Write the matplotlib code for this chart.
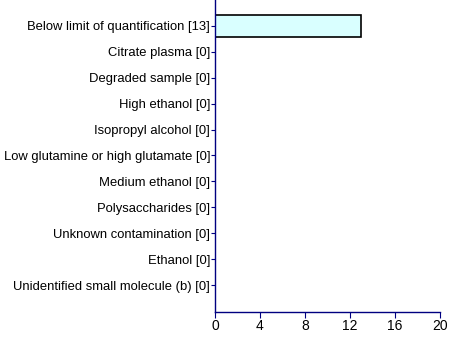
import matplotlib.pyplot as plt
import matplotlib.transforms as mtransforms

# Sample flags and counts
categories = [
    'Below limit of quantification',
    'Citrate plasma',
    'Degraded sample',
    'High ethanol',
    'Isopropyl alcohol',
    'Low glutamine or high glutamate',
    'Medium ethanol',
    'Polysaccharides',
    'Unknown contamination',
    'Ethanol',
    'Unidentified small molecule (b)',
]
counts = [13, 0, 0, 0, 0, 0, 0, 0, 0, 0, 0]
x_ticks = [0, 4, 8, 12, 16, 20]

labels = [f'{c} [{n}]' for c, n in zip(categories, counts)]

plt.rcParams['font.family'] = ['Liberation Sans', 'DejaVu Sans']

fig = plt.figure(figsize=(4.5, 3.42), dpi=100)
ax = fig.add_axes([215 / 450, 1 - 312 / 342, 225 / 450, 312 / 342])

pos = list(range(len(categories)))
ax.barh(pos, counts, height=0.85, color='#d9ffff', edgecolor='black', linewidth=1.2)

ax.set_yticks(pos)
ax.set_yticklabels(labels, fontsize=9.4)
ax.set_ylim(len(categories) - 1 + 1.04, -1.0)

# nudge category labels up a little relative to their ticks
shift = mtransforms.ScaledTranslation(0, 3 / 100, fig.dpi_scale_trans)
for lab in ax.get_yticklabels():
    lab.set_transform(lab.get_transform() + shift)

ax.set_xlim(0, 20)
ax.set_xticks(x_ticks)
ax.set_xticklabels([str(t) for t in x_ticks], fontsize=10)

for side in ['top', 'right']:
    ax.spines[side].set_visible(False)
for side in ['left', 'bottom']:
    ax.spines[side].set_color('#000080')
    ax.spines[side].set_linewidth(1.0)

ax.tick_params(axis='y', length=3, color='#000080', pad=0.5)
ax.tick_params(axis='x', length=4, color='#000080', pad=1)

fig.savefig('out.png', dpi=100)
